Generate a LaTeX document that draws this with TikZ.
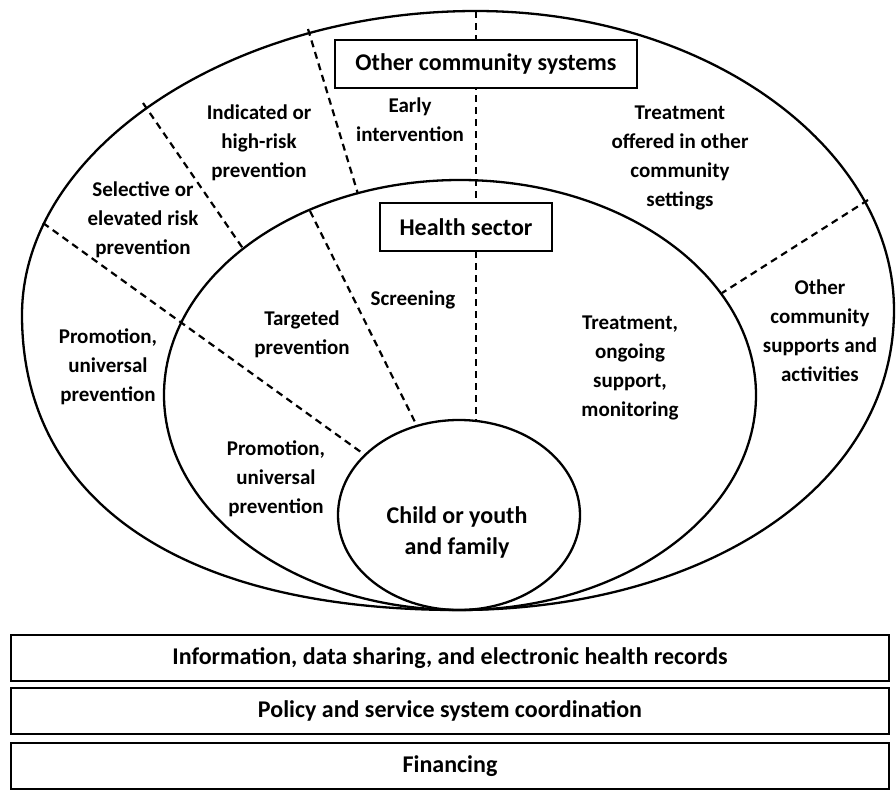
\documentclass[tikz,border=0pt]{standalone}
\usepackage{fontspec}
\setmainfont{Carlito}

\begin{document}
\begin{tikzpicture}[x=0.5pt,y=-0.5pt,
  ring/.style={line width=1.15pt},
  split/.style={line width=1.1pt,dash pattern=on 3.5pt off 2.5pt},
  lbl/.style={font=\fontsize{10.5}{14.5}\selectfont\bfseries,align=center,inner sep=0pt},
  title/.style={draw,line width=1.1pt,fill=white,font=\fontsize{12}{14}\selectfont\bfseries,
    inner sep=0pt,minimum width=151pt,minimum height=24pt},
  bar/.style={draw,line width=1.1pt,font=\fontsize{12}{14}\selectfont\bfseries,
    inner sep=0pt,minimum width=439pt,minimum height=23pt}]

\useasboundingbox (0,0) rectangle (896,793);

% the three rings
\draw[ring] (476,11) .. controls (230,11) and (22,150) .. (22,315)
  .. controls (22,500) and (180,610) .. (458,610)
  .. controls (700,610) and (894,490) .. (894,310)
  .. controls (894,150) and (710,11) .. (476,11);
\draw[ring] (460,395) ellipse [x radius=296, y radius=215];
\draw[ring] (459,515) ellipse [x radius=121, y radius=95];

% ends of the dividing lines
\coordinate (outA) at (308,29);  \coordinate (midA) at (358,194);
\coordinate (outB) at (143,103); \coordinate (midB) at (244,250);
\coordinate (outC) at (43,223);  \coordinate (kidC) at (365,455);
\coordinate (midD) at (310,211); \coordinate (kidD) at (417,426);
\coordinate (outE) at (476,11);  \coordinate (kidE) at (476,421);
\coordinate (outF) at (868,200); \coordinate (midF) at (722,293);

\draw[split] (outA) -- (midA);
\draw[split] (outB) -- (midB);
\draw[split] (outC) -- (kidC);
\draw[split] (midD) -- (kidD);
\draw[split] (outE) -- (kidE);
\draw[split] (outF) -- (midF);

% sector boxes
\node[title] (other) at (486,64) {Other community systems};
\node[title,minimum width=86pt] (health) at (466,227) {Health sector};

% outer ring
\node[lbl] (selective) at (143,220) {Selective or\\elevated risk\\prevention};
\node[lbl] (indicated) at (259,143) {Indicated or\\high-risk\\prevention};
\node[lbl] (early) at (410,120) {Early\\intervention};
\node[lbl] (elsewhere) at (680,158) {Treatment\\offered in other\\community\\settings};
\node[lbl] (promoOut) at (108,367) {Promotion,\\universal\\prevention};
\node[lbl] (supports) at (820,331) {Other\\community\\supports and\\activities};

% health sector ring
\node[lbl] (targeted) at (302,334) {Targeted\\prevention};
\node[lbl] (screening) at (413,300) {Screening};
\node[lbl] (promoIn) at (276,479) {Promotion,\\universal\\prevention};
\node[lbl] (treatment) at (630,368) {Treatment,\\ongoing\\support,\\monitoring};

% centre
\node[lbl,font=\fontsize{12}{15.5}\selectfont\bfseries] (child) at (457,532) {Child or youth\\and family};

% supporting layers
\node[bar] (info) at (450,658) {Information, data sharing, and electronic health records};
\node[bar] (policy) at (450,711) {Policy and service system coordination};
\node[bar] (money) at (450,766) {Financing};

\end{tikzpicture}
\end{document}
